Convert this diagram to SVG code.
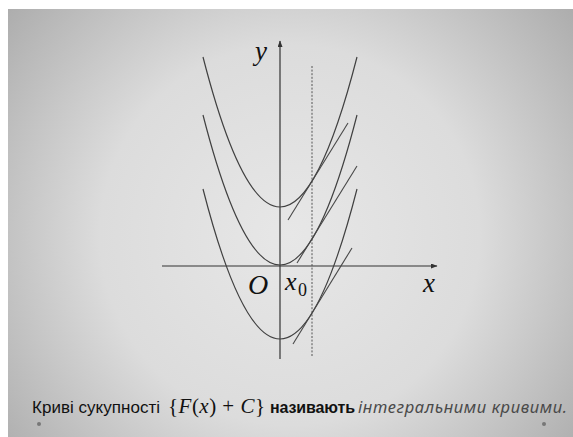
<svg xmlns="http://www.w3.org/2000/svg" width="573" height="437" viewBox="0 0 573 437">
<defs>
<radialGradient id="bg" gradientUnits="userSpaceOnUse" cx="290" cy="235" r="380">
<stop offset="0" stop-color="#e7e7e7"/>
<stop offset="0.5" stop-color="#dcdcdc"/>
<stop offset="1" stop-color="#a8a8a8"/>
</radialGradient>
<marker id="arr" markerWidth="7" markerHeight="6" refX="6" refY="2.5" orient="auto" markerUnits="userSpaceOnUse">
<path d="M0,0 L6.5,2.5 L0,5 Z" fill="#333"/>
</marker>
<style>
.ax{stroke:#333;stroke-width:1.2;fill:none}
.cv{stroke:#404040;stroke-width:1.2;fill:none}
.tg{stroke:#474747;stroke-width:1.1;fill:none}
.lb{font-family:"Liberation Serif",serif;font-style:italic;fill:#111}
.sans{font-family:"Liberation Sans",Arial,sans-serif;fill:#111}
</style>
</defs>
<rect x="0" y="0" width="573" height="437" fill="#ffffff"/>
<rect x="8" y="9" width="565" height="428" fill="url(#bg)"/>
<g id="connectors">
<g id="axes">
<path class="ax" d="M162,266 H437" marker-end="url(#arr)"/>
<path class="ax" d="M280,359 V41" marker-end="url(#arr)"/>
</g>
<path id="x0-line" d="M312,66 V357" stroke="#555" stroke-width="1" stroke-dasharray="2 1.6" fill="none"/>
<g id="curves">
<path class="cv" d="M203,57 Q280,357 357,57"/>
<path class="cv" d="M203,115 Q280,415 357,115"/>
<path class="cv" d="M203,189 Q280,489 357,189"/>
</g>
<g id="tangents">
<path class="tg" d="M288,220 L348,123"/>
<path class="tg" d="M297,263 L357,166"/>
<path class="tg" d="M293,344 L352,248"/>
</g>
</g>
<g id="labels">
<text class="lb" x="255" y="60" font-size="27">y</text>
<text class="lb" x="248" y="294" font-size="28">O</text>
<text class="lb" x="285" y="290" font-size="26">x</text>
<text x="298" y="296" font-size="18" font-family="Liberation Serif,serif" fill="#111">0</text>
<text class="lb" x="423" y="292" font-size="27">x</text>
</g>
<g id="caption">
<text class="sans" x="32" y="413" font-size="17" textLength="128">Криві сукупності</text>
<text x="168" y="413" font-size="21" font-family="Liberation Serif,serif" fill="#111" textLength="97">{<tspan font-style="italic">F</tspan>(<tspan font-style="italic">x</tspan>) + <tspan font-style="italic">C</tspan>}</text>
<text class="sans" x="270" y="413" font-size="16" font-weight="bold" textLength="85">називають</text>
<text x="358" y="413" font-size="16.5" font-style="italic" font-family="'Noto Sans','Liberation Sans',sans-serif" fill="#4a4a4a" textLength="209">інтегральними кривими.</text>
<circle cx="39" cy="424" r="2" fill="#777"/>
<circle cx="544" cy="424" r="2" fill="#777"/>
</g>
</svg>
